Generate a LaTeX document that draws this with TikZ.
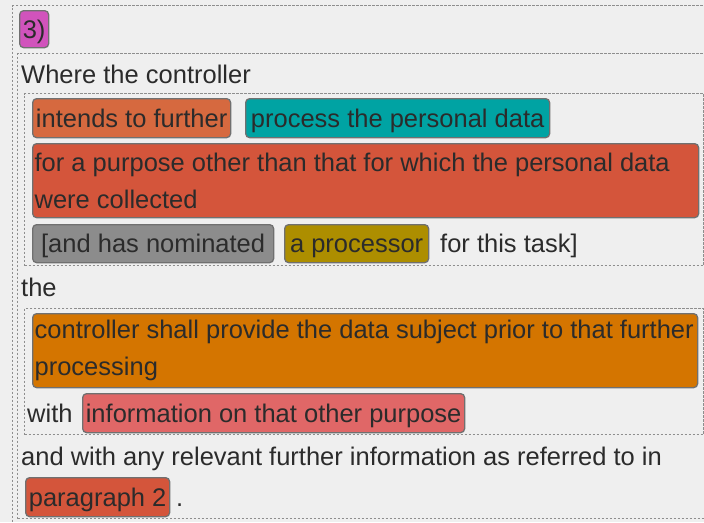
\documentclass[tikz,border=0pt]{standalone}
\usepackage{fontspec}
\setmainfont{Liberation Sans}
\definecolor{bgc}{HTML}{EFEFEF}
\definecolor{txt}{HTML}{2B2B2B}
\definecolor{bord}{HTML}{707070}
\definecolor{dashc}{HTML}{8E8E8E}
\definecolor{cmag}{HTML}{D153BC}
\definecolor{cint}{HTML}{D6693F}
\definecolor{cteal}{HTML}{00A3A3}
\definecolor{cred}{HTML}{D4553B}
\definecolor{cgray}{HTML}{8C8C8C}
\definecolor{colive}{HTML}{AD8E00}
\definecolor{corange}{HTML}{D47500}
\definecolor{cpink}{HTML}{E06767}
\tikzset{
  cbox/.style={draw=bord, line width=1.3pt, rounded corners=4pt, inner xsep=3pt, inner ysep=0pt,
    anchor=north west, text=txt, text height=19pt, text depth=1pt},
  mbox/.style={cbox, align=flush left, inner xsep=2pt, text height=, text depth=},
  plain/.style={anchor=base west, inner sep=0pt, text=txt},
  group/.style={draw=dashc, line width=1pt, dash pattern=on 2.5pt off 1.5pt, anchor=north west, inner sep=0pt}
}
\begin{document}
\begin{tikzpicture}[x=1pt,y=-1pt, font=\fontsize{25.5}{37}\selectfont]
\useasboundingbox (0,0) rectangle (704,522);
\fill[bgc] (0,0) rectangle (704,522);
% dashed groups
\node[group, minimum width=700pt, minimum height=530pt] (outer) at (12,5) {};
\node[group, minimum width=700pt, minimum height=465pt] (clause) at (17,53) {};
\node[group, minimum width=679pt, minimum height=172pt] (cond) at (24,93) {};
\node[group, minimum width=679pt, minimum height=126pt] (cons) at (24,308) {};
% coloured boxes
\node[cbox, fill=cmag, minimum width=29pt, minimum height=37pt] (num) at (19,10) {3)};
\node[cbox, fill=cint, minimum width=198pt, minimum height=39pt] (intends) at (32,98) {intends to further};
\node[cbox, fill=cteal, minimum width=304pt, minimum height=39pt] (process) at (245,98) {process the personal data};
\node[mbox, fill=cred, text width=662pt, minimum height=74pt] (purpose) at (32,143) {\mbox{for a purpose other than that for which the personal data}\\\mbox{were collected}};
\node[cbox, fill=cgray, minimum width=241pt, minimum height=38pt] (nominated) at (32,224) {[and has nominated};
\node[cbox, fill=colive, minimum width=144pt, minimum height=38pt] (processor) at (284,224) {a processor};
\node[mbox, fill=corange, text width=661pt, minimum height=74pt] (provide) at (32,313) {\mbox{controller shall provide the data subject prior to that further}\\\mbox{processing}};
\node[cbox, fill=cpink, minimum width=382pt, minimum height=39pt] (info) at (82,393) {information on that other purpose};
\node[cbox, fill=cred, minimum width=144pt, minimum height=39pt] (para) at (25,477) {paragraph 2};
% plain texts
\node[plain] (where) at (21,83) {Where the controller};
\node[plain] (task) at (440,252) {for this task]};
\node[plain] (the) at (21,296) {the};
\node[plain] (with) at (27,422) {with};
\node[plain] (andwith) at (21,465) {and with any relevant further information as referred to in};
\node[plain] (dot) at (176,506) {.};
\end{tikzpicture}
\end{document}
